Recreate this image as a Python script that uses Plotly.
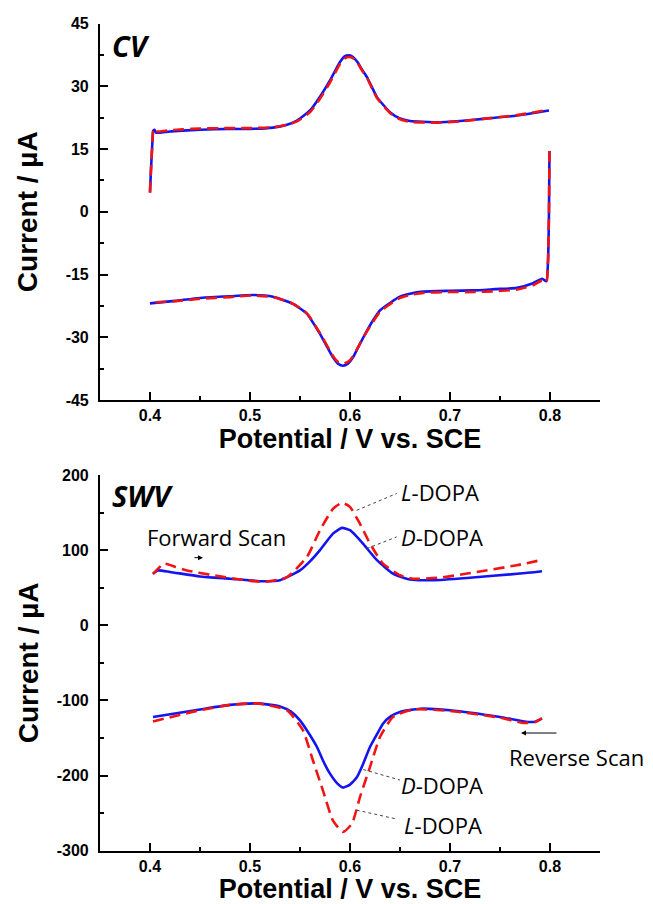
import plotly.graph_objects as go
from plotly.subplots import make_subplots

# CV (top panel) - forward and reverse sweeps, D-DOPA (blue) and L-DOPA (red)
cv_fwd_x = [0.400, 0.401, 0.4025, 0.4033, 0.4045, 0.406, 0.410, 0.420, 0.433, 0.450,
            0.480, 0.500, 0.523, 0.537, 0.547, 0.560, 0.570, 0.580, 0.590, 0.595,
            0.599, 0.603, 0.608, 0.612, 0.617, 0.627, 0.640, 0.650, 0.660, 0.687,
            0.710, 0.733, 0.767, 0.799]
cv_fwd_d = [4.7, 10, 17, 19.4, 19.6, 18.9, 18.9, 19.2, 19.4, 19.6,
            19.8, 19.8, 20.1, 20.8, 21.8, 24.2, 27.5, 31.4, 35.8, 37.2,
            37.4, 37.0, 35.6, 34.0, 32.2, 27.4, 23.8, 22.3, 21.7, 21.4,
            21.7, 22.2, 23.0, 24.2]
cv_fwd_l = [4.5, 10, 17, 19.6, 19.8, 19.2, 19.2, 19.5, 19.7, 19.9,
            20.0, 20.0, 20.2, 20.8, 21.6, 23.8, 27.0, 30.9, 35.3, 36.7,
            37.0, 36.7, 35.4, 33.8, 32.0, 27.2, 23.6, 22.1, 21.5, 21.3,
            21.6, 22.2, 23.1, 24.4]

cv_rev_x = [0.7995, 0.799, 0.798, 0.7965, 0.794, 0.792, 0.783, 0.767, 0.745, 0.723,
            0.700, 0.673, 0.660, 0.650, 0.640, 0.630, 0.617, 0.608, 0.603, 0.598,
            0.593, 0.588, 0.583, 0.570, 0.557, 0.543, 0.523, 0.503, 0.480, 0.450,
            0.425, 0.400]
cv_rev_d = [14.5, 0, -12, -16.6, -16.3, -16.0, -17.1, -18.2, -18.5, -18.8,
            -18.9, -19.1, -19.6, -20.3, -21.8, -23.6, -28.4, -32.5, -34.8, -36.3,
            -36.8, -36.3, -34.8, -29.2, -24.4, -22.0, -20.3, -19.9, -20.2, -20.6,
            -21.3, -21.9]
cv_rev_l = [14.5, 0, -12, -16.8, -16.6, -16.4, -17.6, -18.6, -19.0, -19.2,
            -19.2, -19.4, -19.9, -20.6, -22.1, -23.9, -28.6, -32.4, -34.6, -35.9,
            -36.3, -35.9, -34.5, -29.0, -24.3, -22.0, -20.4, -20.0, -20.4, -20.8,
            -21.4, -21.7]

# SWV (bottom panel)
swv_fwd_x_d = [0.403, 0.408, 0.420, 0.450, 0.480, 0.513, 0.530, 0.550, 0.560, 0.570,
               0.583, 0.592, 0.600, 0.606, 0.613, 0.627, 0.643, 0.660, 0.683, 0.717,
               0.770, 0.792]
swv_fwd_d = [68.8, 73, 71, 65, 62, 58.6, 60, 73, 85, 100,
             122, 129.6, 126.5, 119, 108.8, 86.6, 68.8, 60.8, 60, 63,
             68.8, 72]
swv_fwd_x_l = [0.403, 0.414, 0.425, 0.437, 0.463, 0.490, 0.513, 0.537, 0.557, 0.570,
               0.583, 0.592, 0.600, 0.610, 0.620, 0.633, 0.650, 0.663, 0.690, 0.717,
               0.767, 0.792]
swv_fwd_l = [68, 82, 78, 73, 66.6, 61, 57.7, 64, 91, 126.5,
             155, 163, 157.5, 135, 108.8, 82, 66.6, 62, 63.5, 68.8,
             80, 87]

swv_rev_x_d = [0.403, 0.450, 0.480, 0.507, 0.530, 0.541, 0.550, 0.558, 0.567, 0.573,
               0.580, 0.587, 0.593, 0.600, 0.607, 0.613, 0.620, 0.627, 0.633, 0.641,
               0.650, 0.670, 0.700, 0.750, 0.778, 0.786, 0.792]
swv_rev_d = [-122, -112, -106, -104, -108, -115, -126.5, -142, -162, -180,
             -197.5, -210, -216, -212, -202, -185, -162, -145, -131, -121,
             -115.4, -111, -113, -122, -128.7, -128, -124]
swv_rev_x_l = [0.403, 0.450, 0.480, 0.507, 0.537, 0.553, 0.563, 0.573, 0.583, 0.593,
               0.602, 0.610, 0.620, 0.630, 0.643, 0.663, 0.700, 0.750, 0.773, 0.785,
               0.792]
swv_rev_l = [-128, -113, -106, -104, -113, -140, -180, -220, -260, -275,
             -264, -228.6, -188.7, -148.7, -122, -112, -114, -123, -130, -129,
             -124]

x_ticks = [0.4, 0.5, 0.6, 0.7, 0.8]
cv_ticks = [-45, -30, -15, 0, 15, 30, 45]
swv_ticks = [-300, -200, -100, 0, 100, 200]

blue = "#1414f0"
red = "#f01414"
axis_font = dict(family="Arial, Liberation Sans", size=16, color="black", weight="bold")
title_font = dict(family="Arial, Liberation Sans", size=28, color="black", weight="bold")
xtitle_font = dict(family="Arial, Liberation Sans", size=27, color="black", weight="bold")
note_font = dict(family="Open Sans", size=22, color="black")
tag_font = dict(family="Open Sans", size=29, color="black", weight="bold", style="italic")

fig = make_subplots(rows=2, cols=1)

def join(xa, ya, xb, yb):
    return xa + [None] + xb, ya + [None] + yb

smooth = dict(shape="spline", smoothing=0.5)

x, y = join(cv_fwd_x, cv_fwd_d, cv_rev_x, cv_rev_d)
fig.add_trace(go.Scatter(x=x, y=y, mode="lines",
                         line=dict(color=blue, width=2.6, **smooth),
                         name="D-DOPA"), row=1, col=1)
x, y = join(cv_fwd_x, cv_fwd_l, cv_rev_x, cv_rev_l)
fig.add_trace(go.Scatter(x=x, y=y, mode="lines",
                         line=dict(color=red, width=2.6, dash="11px,6px", **smooth),
                         name="L-DOPA"), row=1, col=1)

x, y = join(swv_fwd_x_d, swv_fwd_d, swv_rev_x_d, swv_rev_d)
fig.add_trace(go.Scatter(x=x, y=y, mode="lines",
                         line=dict(color=blue, width=2.6, **smooth),
                         name="D-DOPA"), row=2, col=1)
x, y = join(swv_fwd_x_l, swv_fwd_l, swv_rev_x_l, swv_rev_l)
fig.add_trace(go.Scatter(x=x, y=y, mode="lines",
                         line=dict(color=red, width=2.6, dash="11px,6px", **smooth),
                         name="L-DOPA"), row=2, col=1)

# the page body adds an 8px offset, so the figure is 8px smaller than the window
fig.update_xaxes(domain=[0.1426, 0.9178], range=[0.35, 0.85],
                 tickvals=x_ticks, ticktext=[f"{v:.1f}" for v in x_ticks],
                 ticks="inside", ticklen=8, tickwidth=1.5, tickcolor="black",
                 minor=dict(tickvals=[0.45, 0.55, 0.65, 0.75], ticks="inside",
                            ticklen=4, tickwidth=1.5, tickcolor="black"),
                 showline=True, linecolor="black", linewidth=2, showgrid=False,
                 zeroline=False, tickfont=axis_font, ticklabelstandoff=0,
                 automargin=False,
                 title=dict(text="Potential / V vs. SCE", font=xtitle_font, standoff=5))

fig.update_yaxes(domain=[0.5625, 0.9827], range=[-45, 45],
                 tickvals=cv_ticks, ticktext=[str(v) for v in cv_ticks],
                 minor=dict(tickvals=[-37.5, -22.5, -7.5, 7.5, 22.5, 37.5],
                            ticks="inside", ticklen=4, tickwidth=1.5, tickcolor="black"),
                 title=dict(text="Current / µA", font=title_font, standoff=20),
                 row=1, col=1)
fig.update_yaxes(domain=[0.0595, 0.4788], range=[-300, 200],
                 tickvals=swv_ticks, ticktext=[str(v) for v in swv_ticks],
                 minor=dict(tickvals=[-250, -150, -50, 50, 150],
                            ticks="inside", ticklen=4, tickwidth=1.5, tickcolor="black"),
                 title=dict(text="Current / µA", font=title_font, standoff=10),
                 row=2, col=1)
fig.update_yaxes(ticks="inside", ticklen=8, tickwidth=1.5, tickcolor="black",
                 showline=True, linecolor="black", linewidth=2, showgrid=False,
                 zeroline=False, tickfont=axis_font, ticklabelstandoff=6,
                 automargin=False)

notes = [
    dict(x=0.36, y=39.8, xref="x", yref="y", text="CV", font=tag_font),
    dict(x=0.36, y=173, xref="x2", yref="y2", text="SWV", font=tag_font),
    dict(x=0.395, y=117.6, xref="x2", yref="y2", text="Forward Scan", font=note_font),
    dict(x=0.649, y=177.5, xref="x2", yref="y2", text="<i>L</i>-DOPA", font=note_font),
    dict(x=0.649, y=117.6, xref="x2", yref="y2", text="<i>D</i>-DOPA", font=note_font),
    dict(x=0.649, y=-213, xref="x2", yref="y2", text="<i>D</i>-DOPA", font=note_font),
    dict(x=0.652, y=-266, xref="x2", yref="y2", text="<i>L</i>-DOPA", font=note_font),
    dict(x=0.757, y=-175.4, xref="x2", yref="y2", text="Reverse Scan", font=note_font),
]
for n in notes:
    fig.add_annotation(showarrow=False, xanchor="left", yanchor="middle", **n)

# scan direction arrows
fig.add_annotation(x=0.453, y=90, ax=0.443, ay=90, xref="x2", yref="y2",
                   axref="x2", ayref="y2", text="", showarrow=True, arrowhead=2,
                   arrowsize=1, arrowwidth=1, arrowcolor="black")
fig.add_annotation(x=0.771, y=-143.4, ax=0.808, ay=-143.4, xref="x2", yref="y2",
                   axref="x2", ayref="y2", text="", showarrow=True, arrowhead=2,
                   arrowsize=1, arrowwidth=1, arrowcolor="black")

# dotted leader lines from the peaks to their labels
leaders = [
    (0.6067, 153, 0.6467, 175.4),
    (0.6167, 102, 0.6467, 117.6),
    (0.6133, -192, 0.650, -206),
    (0.6067, -246, 0.645, -257.4),
]
for x0, y0, x1, y1 in leaders:
    fig.add_shape(type="line", x0=x0, y0=y0, x1=x1, y1=y1, xref="x2", yref="y2",
                  line=dict(color="#444444", width=1, dash="dot"))

fig.update_layout(
    width=645,
    height=896,
    margin=dict(l=0, r=0, t=0, b=0, autoexpand=False),
    plot_bgcolor="white",
    paper_bgcolor="white",
    showlegend=False,
)

fig.write_html("out.html")
